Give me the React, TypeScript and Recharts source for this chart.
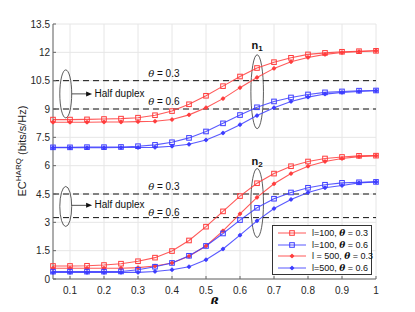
import React from "react";
import {
  LineChart,
  Line,
  XAxis,
  YAxis,
  CartesianGrid,
  ReferenceLine,
  ReferenceArea,
  ReferenceDot,
} from "recharts";

const BETA = [0.05, 0.1, 0.15, 0.2, 0.25, 0.3, 0.35, 0.4, 0.45, 0.5, 0.55, 0.6, 0.65, 0.7, 0.75, 0.8, 0.85, 0.9, 0.95, 1.0];

// n1 group
const N1_L100_T03 = [8.44, 8.44, 8.45, 8.47, 8.49, 8.54, 8.67, 8.89, 9.25, 9.7, 10.21, 10.72, 11.17, 11.48, 11.71, 11.89, 11.97, 12.03, 12.06, 12.08];
const N1_L500_T03 = [8.3, 8.3, 8.3, 8.31, 8.31, 8.33, 8.35, 8.44, 8.69, 9.07, 9.55, 10.13, 10.67, 11.15, 11.5, 11.73, 11.89, 11.99, 12.04, 12.08];
const N1_L100_T06 = [6.97, 6.97, 6.98, 6.98, 6.99, 7.03, 7.1, 7.24, 7.47, 7.81, 8.24, 8.68, 9.09, 9.4, 9.61, 9.77, 9.88, 9.93, 9.97, 9.98];
const N1_L500_T06 = [6.95, 6.95, 6.95, 6.95, 6.96, 6.96, 6.97, 7.03, 7.13, 7.36, 7.73, 8.17, 8.65, 9.07, 9.4, 9.63, 9.79, 9.88, 9.93, 9.97];

// n2 group
const N2_L100_T03 = [0.69, 0.69, 0.7, 0.74, 0.81, 0.94, 1.13, 1.48, 2.04, 2.77, 3.58, 4.39, 5.07, 5.58, 5.97, 6.22, 6.38, 6.46, 6.52, 6.53];
const N2_L500_T03 = [0.57, 0.57, 0.57, 0.57, 0.57, 0.6, 0.69, 0.85, 1.2, 1.75, 2.55, 3.45, 4.32, 5.04, 5.58, 5.97, 6.22, 6.38, 6.48, 6.53];
const N2_L100_T06 = [0.39, 0.39, 0.39, 0.39, 0.4, 0.49, 0.65, 0.85, 1.23, 1.75, 2.41, 3.12, 3.77, 4.25, 4.58, 4.83, 4.99, 5.09, 5.12, 5.14];
const N2_L500_T06 = [0.35, 0.35, 0.35, 0.35, 0.35, 0.35, 0.4, 0.49, 0.65, 1.02, 1.59, 2.32, 3.08, 3.73, 4.21, 4.58, 4.83, 4.95, 5.09, 5.14];

const X_TICKS = [0.1, 0.2, 0.3, 0.4, 0.5, 0.6, 0.7, 0.8, 0.9, 1];
const Y_TICKS = [0, 1.5, 3, 4.5, 6, 7.5, 9, 10.5, 12, 13.5];

// half duplex thresholds
const HD_UPPER = [10.5, 9];
const HD_LOWER = [4.5, 3.25];

const RED = "#ff3c3c";
const BLUE = "#3c3cff";
const AXIS = "#666";
const FONT = "'Liberation Sans', Arial, sans-serif";

const data = BETA.map((b, i) => ({
  beta: b,
  a1: N1_L100_T03[i],
  a2: N1_L500_T03[i],
  a3: N1_L100_T06[i],
  a4: N1_L500_T06[i],
  b1: N2_L100_T03[i],
  b2: N2_L500_T03[i],
  b3: N2_L100_T06[i],
  b4: N2_L500_T06[i],
}));

const SERIES = [
  { key: "a1", color: RED, marker: "square" },
  { key: "a2", color: RED, marker: "star" },
  { key: "a3", color: BLUE, marker: "square" },
  { key: "a4", color: BLUE, marker: "star" },
  { key: "b1", color: RED, marker: "square" },
  { key: "b2", color: RED, marker: "star" },
  { key: "b3", color: BLUE, marker: "square" },
  { key: "b4", color: BLUE, marker: "star" },
];

const LEGEND = [
  { label: "l=100, ", theta: "0.3", color: RED, marker: "square" },
  { label: "l=100, ", theta: "0.6", color: BLUE, marker: "square" },
  { label: "l = 500, ", theta: "0.3", color: RED, marker: "star" },
  { label: "l=500, ", theta: "0.6", color: BLUE, marker: "star" },
];

function Marker({ cx, cy, color, kind }: any) {
  if (kind === "square") {
    return <rect x={cx - 2.3} y={cy - 2.3} width={4.6} height={4.6} fill="none" stroke={color} strokeWidth={1} />;
  }
  return (
    <g stroke={color} strokeWidth={0.8}>
      <line x1={cx - 2.2} y1={cy} x2={cx + 2.2} y2={cy} />
      <line x1={cx} y1={cy - 2.2} x2={cx} y2={cy + 2.2} />
      <circle cx={cx} cy={cy} r={1.5} fill={color} />
    </g>
  );
}

function EllipseShape(props: any) {
  const { x, y, width, height } = props;
  return (
    <ellipse
      cx={x + width / 2}
      cy={y + height / 2}
      rx={width / 2}
      ry={height / 2}
      fill="none"
      stroke="#333"
      strokeWidth={0.8}
    />
  );
}

function ArrowShape(props: any) {
  const { x1, y1, x2, y2 } = props;
  return (
    <g>
      <line x1={x1} y1={y1} x2={x2 - 5} y2={y2} stroke="#222" strokeWidth={0.8} />
      <polygon points={`${x2},${y2} ${x2 - 6},${y2 - 2.5} ${x2 - 6},${y2 + 2.5}`} fill="#111" />
    </g>
  );
}

function textShape(content: React.ReactNode, anchor: string = "start", size = 10) {
  return (props: any) => (
    <text
      x={props.cx}
      y={props.cy}
      textAnchor={anchor}
      dominantBaseline="central"
      fontSize={size}
      fontFamily={FONT}
      fill="#111"
    >
      {content}
    </text>
  );
}

const thetaText = (v: string) => (
  <>
    <tspan fontStyle="italic" fontFamily="'DejaVu Serif', serif">θ</tspan>
    <tspan>{` = ${v}`}</tspan>
  </>
);

const nLabel = (sub: string) => (
  <>
    <tspan fontWeight="bold">n</tspan>
    <tspan fontSize={8} dy={3} fontWeight="bold">{sub}</tspan>
  </>
);

export default function App() {
  return (
    <div style={{ position: "relative", width: 415, height: 312, margin: -8, background: "#fff" }}>
      <LineChart
        width={415}
        height={312}
        data={data}
        margin={{ top: 24, right: 39, left: 0, bottom: 0 }}
      >
        <CartesianGrid stroke="#e6e6e6" strokeWidth={1} />
        <XAxis
          dataKey="beta"
          type="number"
          domain={[0.05, 1]}
          ticks={X_TICKS}
          tickFormatter={(v) => String(v)}
          height={33}
          stroke={AXIS}
          tickSize={-3}
          tickMargin={11}
          tick={{ fontSize: 10, fill: "#262626", fontFamily: FONT }}
          label={{
            content: (p: any) => (
              <text
                x={p.viewBox.x + p.viewBox.width / 2}
                y={p.viewBox.y + 28}
                textAnchor="middle"
                fontSize={12.5}
                fontStyle="italic"
                fontWeight="bold"
                fontFamily="'DejaVu Serif', serif"
                fill="#111"
              >
                β
              </text>
            ),
          }}
        />
        <XAxis
          xAxisId="top"
          orientation="top"
          type="number"
          domain={[0.05, 1]}
          ticks={X_TICKS}
          tickFormatter={() => ""}
          height={0}
          tickSize={-3}
          stroke={AXIS}
        />
        <YAxis
          type="number"
          domain={[0, 13.5]}
          ticks={Y_TICKS}
          width={53}
          stroke={AXIS}
          tickSize={-3}
          tickMargin={6}
          tick={{ fontSize: 10, fill: "#262626", fontFamily: FONT }}
          label={{
            content: () => (
              <text
                transform="translate(26,151) rotate(-90)"
                textAnchor="middle"
                fontSize={11}
                fontFamily={FONT}
                fill="#222"
              >
                <tspan>EC</tspan>
                <tspan fontSize={8} dy={-5}>HARQ</tspan>
                <tspan dy={5}>{" (bits/s/Hz)"}</tspan>
              </text>
            ),
          }}
        />
        <YAxis
          yAxisId="right"
          orientation="right"
          type="number"
          domain={[0, 13.5]}
          ticks={Y_TICKS}
          tickFormatter={() => ""}
          width={0}
          tickSize={-3}
          stroke={AXIS}
        />

        {[...HD_UPPER, ...HD_LOWER].map((v) => (
          <ReferenceLine key={v} y={v} stroke="#111" strokeWidth={1} strokeDasharray="6 4" />
        ))}

        {SERIES.map((s) => (
          <Line
            key={s.key}
            dataKey={s.key}
            stroke={s.color}
            strokeWidth={1.1}
            strokeOpacity={0.85}
            isAnimationActive={false}
            dot={(p: any) => <Marker key={`${s.key}-${p.index}`} cx={p.cx} cy={p.cy} color={s.color} kind={s.marker} />}
            activeDot={false}
            legendType="none"
          />
        ))}

        {/* Half duplex ellipses and arrows */}
        <ReferenceArea x1={0.07} x2={0.105} y1={8.53} y2={11.07} shape={EllipseShape} fill="none" ifOverflow="visible" />
        <ReferenceArea x1={0.07} x2={0.105} y1={2.78} y2={4.9} shape={EllipseShape} fill="none" ifOverflow="visible" />
        <ReferenceLine segment={[{ x: 0.105, y: 9.8 }, { x: 0.165, y: 9.8 }]} shape={ArrowShape} ifOverflow="visible" />
        <ReferenceLine segment={[{ x: 0.105, y: 3.9 }, { x: 0.165, y: 3.9 }]} shape={ArrowShape} ifOverflow="visible" />
        <ReferenceDot x={0.172} y={9.8} r={0} shape={textShape("Half duplex")} ifOverflow="visible" />
        <ReferenceDot x={0.172} y={3.93} r={0} shape={textShape("Half duplex")} ifOverflow="visible" />

        {/* theta labels */}
        <ReferenceDot x={0.33} y={10.93} r={0} shape={textShape(thetaText("0.3"))} ifOverflow="visible" />
        <ReferenceDot x={0.33} y={9.44} r={0} shape={textShape(thetaText("0.6"))} ifOverflow="visible" />
        <ReferenceDot x={0.33} y={4.91} r={0} shape={textShape(thetaText("0.3"))} ifOverflow="visible" />
        <ReferenceDot x={0.33} y={3.54} r={0} shape={textShape(thetaText("0.6"))} ifOverflow="visible" />

        {/* n1 / n2 ellipses */}
        <ReferenceArea x1={0.632} x2={0.669} y1={7.96} y2={11.87} shape={EllipseShape} fill="none" ifOverflow="visible" />
        <ReferenceArea x1={0.632} x2={0.669} y1={2.2} y2={5.85} shape={EllipseShape} fill="none" ifOverflow="visible" />
        <ReferenceDot x={0.65} y={12.4} r={0} ifOverflow="visible" shape={textShape(nLabel("1"), "middle", 11)} />
        <ReferenceDot x={0.65} y={6.27} r={0} ifOverflow="visible" shape={textShape(nLabel("2"), "middle", 11)} />
      </LineChart>

      <div
        style={{
          position: "absolute",
          left: 272,
          top: 225,
          width: 100,
          height: 50,
          border: "1px solid #333",
          background: "#fff",
          boxSizing: "border-box",
          fontFamily: FONT,
          fontSize: 9,
          color: "#111",
          padding: "1px 0 0 4px",
        }}
      >
        {LEGEND.map((it) => (
          <div key={it.label + it.theta} style={{ display: "flex", alignItems: "center", height: 11.7 }}>
            <svg width={30} height={10} style={{ flexShrink: 0 }}>
              <line x1={1} y1={5} x2={29} y2={5} stroke={it.color} strokeWidth={1} strokeOpacity={0.85} />
              <Marker cx={15} cy={5} color={it.color} kind={it.marker} />
            </svg>
            <span style={{ marginLeft: 5, whiteSpace: "nowrap" }}>
              {it.label}
              <b style={{ fontStyle: "italic", fontFamily: "'DejaVu Serif', serif" }}>θ</b>
              {` = ${it.theta}`}
            </span>
          </div>
        ))}
      </div>
    </div>
  );
}
